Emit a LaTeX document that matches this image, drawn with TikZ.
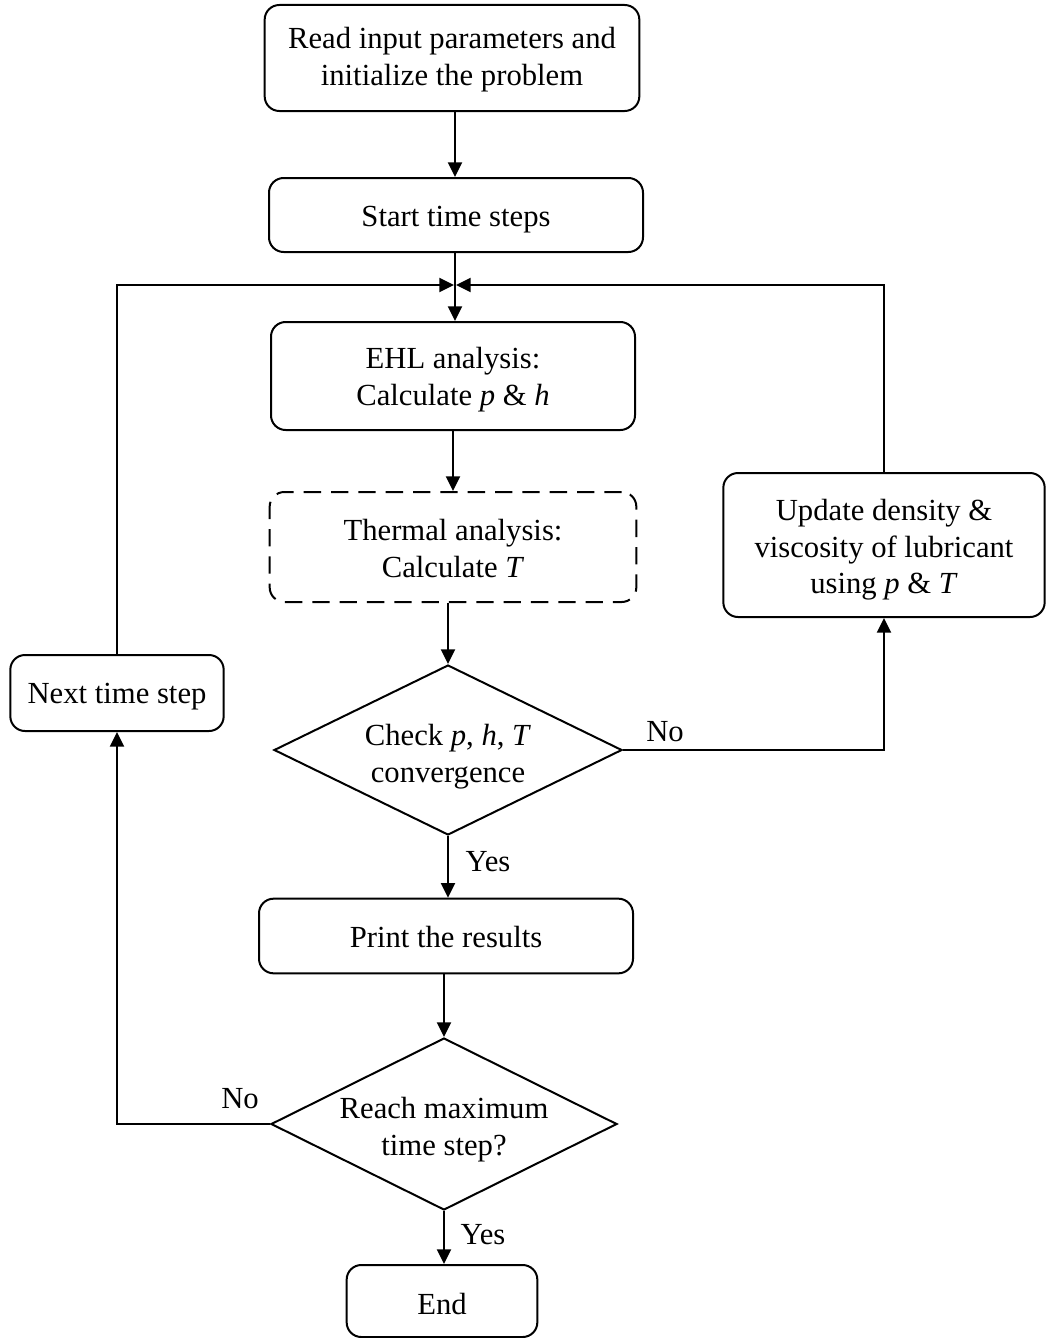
\documentclass[tikz,border=0pt]{standalone}
\usepackage{fontspec}
\setmainfont{Liberation Serif}
\usetikzlibrary{shapes.geometric,arrows.meta}
\begin{document}
\begin{tikzpicture}[x=0.75pt,y=-0.75pt,
  every node/.style={font=\fontsize{23}{27.5}\selectfont, align=center, inner sep=0pt},
  every label/.style={font=\fontsize{23}{27.5}\selectfont, align=center, inner sep=0pt},
  proc/.style={draw, line width=1.5pt, rounded corners=11pt},
  dproc/.style={proc, dash pattern=on 13pt off 7.5pt},
  decision/.style={draw, line width=1.5pt, shape=diamond},
  lbl/.style={},
  arr/.style={line width=1.5pt, -{Triangle[length=11pt,width=10.5pt]}},
  ln/.style={line width=1.5pt}]
\useasboundingbox (0,0) rectangle (1046,1338);

\node[proc, minimum width=281pt, minimum height=79.5pt, label={[name=readtext, yshift=-1pt]center:Read input parameters and\\initialize the problem}] (read) at (452,58) {};
\node[proc, minimum width=280.5pt, minimum height=55.5pt, label={[name=starttext, yshift=-3.5pt]center:Start time steps}] (start) at (456,215) {};
\coordinate (J) at (455,285);
\node[proc, minimum width=273pt, minimum height=81pt, label={[name=ehltext, yshift=-2.5pt]center:EHL analysis:\\Calculate \textit{p} \& \textit{h}}] (ehl) at (453,376) {};
\node[dproc, minimum width=275pt, minimum height=82.5pt, label={[name=thermaltext, yshift=-1pt]center:Thermal analysis:\\Calculate \textit{T}}] (thermal) at (453,547) {};
\node[decision, minimum width=261pt, minimum height=127.5pt, label={[name=checktext, yshift=-5pt]center:Check \textit{p}, \textit{h}, \textit{T}\\convergence}] (check) at (448,750) {};
\node[proc, minimum width=241pt, minimum height=108pt, label={[name=updatetext, yshift=-3.5pt]center:Update density \&\\viscosity of lubricant\\using \textit{p} \& \textit{T}}] (update) at (884,545) {};
\node[proc, minimum width=160pt, minimum height=57pt, label={[name=nexttext, yshift=-3pt]center:Next time step}] (next) at (117,693) {};
\node[proc, minimum width=280.5pt, minimum height=56pt, label={[name=printtext, yshift=-1pt]center:Print the results}] (print) at (446,936) {};
\node[decision, minimum width=259.5pt, minimum height=129pt, label={[name=reachtext, yshift=-4pt]center:Reach maximum\\time step?}] (reach) at (444,1124) {};
\node[proc, minimum width=143pt, minimum height=54pt, label={[name=endtext, yshift=-2.5pt]center:End}] (end) at (442,1301) {};

\node[lbl] (no1) at (665,732) {No};
\node[lbl] (yes1) at (488,862) {Yes};
\node[lbl] (no2) at (240,1099) {No};
\node[lbl] (yes2) at (483,1235) {Yes};

\draw[arr] (read.south -| J) -- (J |- start.north);
\draw[arr] (J |- start.south) -- (J |- ehl.north);
\draw[arr, shorten >=0.75pt] (next.north) |- (J);
\draw[arr, shorten >=0.75pt] (update.north) |- (J);
\draw[arr] (ehl.south) -- (thermal.north);
\draw[arr] (check.north |- thermal.south) -- (check.north);
\draw[arr] (check.east) -| (update.south);
\draw[arr] (check.south) -- (check.south |- print.north);
\draw[arr] (reach.north |- print.south) -- (reach.north);
\draw[arr] (reach.west) -| (next.south);
\draw[arr] (reach.south) -- (reach.south |- end.north);
\end{tikzpicture}
\end{document}
